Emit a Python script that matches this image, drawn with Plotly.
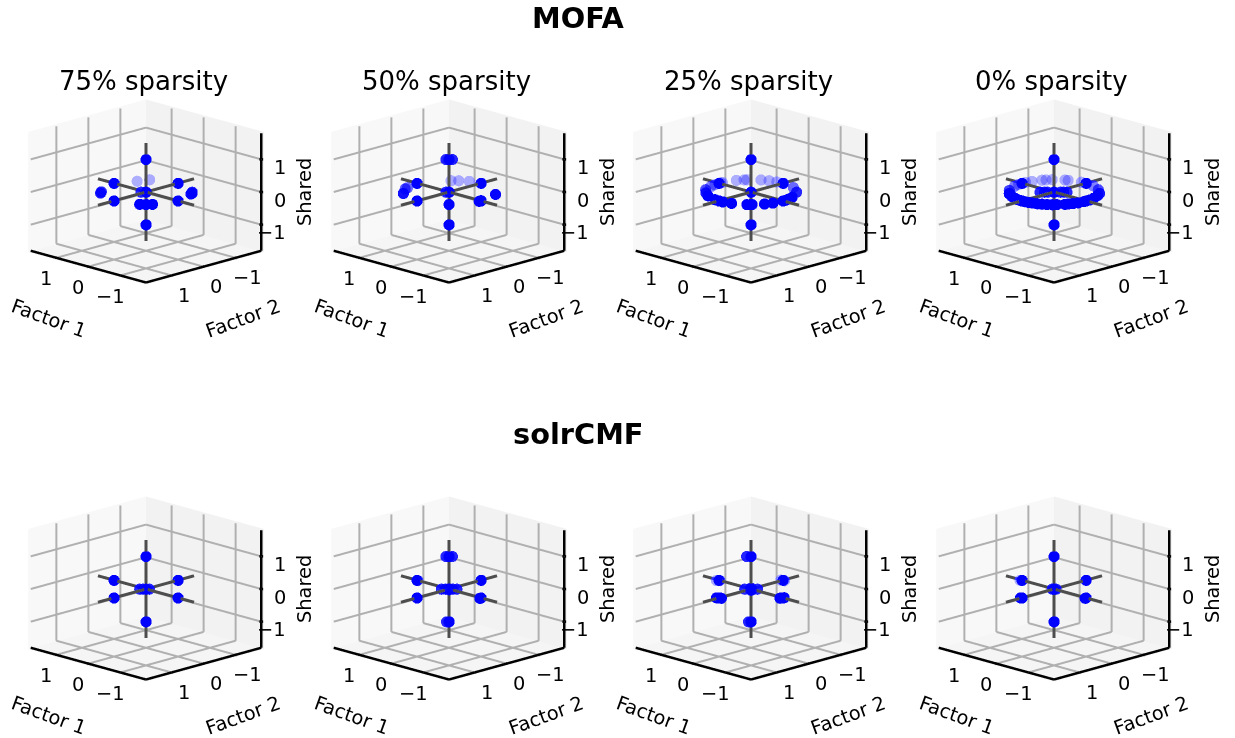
import plotly.graph_objects as go

TITLES = ["75% sparsity", "50% sparsity", "25% sparsity", "0% sparsity"]
TICKS = [-1, 0, 1]
TICKTEXT = ["\u22121", "0", "1"]
R = 1.8
BOX = 1.84

# the six unit directions and the origin, common to all panels
base_x = [1, -1, 0, 0, 0, 0, 0]
base_y = [0, 0, 1, -1, 0, 0, 0]
base_z = [0, 0, 0, 0, 1, -1, 0]

# reference axes drawn through the origin
axis_x = [[-1.5, 1.5], [0, 0], [0, 0]]
axis_y = [[0, 0], [-1.5, 1.5], [0, 0]]
axis_z = [[0, 0], [0, 0], [-1.5, 1.5]]

# extra points per panel
mofa75_x = [.66, .72, -.77, -.8, -.72, .76, .65, -.7, -.59, -.79, .08]
mofa75_y = [.76, .68, -.67, -.6, -.72, -.48, -.76, .7, .79, .59, .08]
mofa75_z = [0] * 11
mofa50_x = [.64, .87, .9, .62, .5, .3, -.85, -.7, -.99, -.98, .05, .05, -.05]
mofa50_y = [.79, .5, .4, -.68, -.8, -.93, -.6, .7, .05, -.02, .05, .05, -.05]
mofa50_z = [0] * 11 + [1, 1]
mofa25_x = [-.33, -.64, -.69, -.72, -.88, -.96, -1.0, -.98, -.93, -.71, -.4, -.11, -.01,
            .14, .47, .67, .85, .95, .99, 1.0, 1.0, .9, .81, .77, .54, .37, .18, -.01]
mofa25_y = [.94, .77, .72, .69, .46, .28, -.05, -.19, -.35, -.71, -.92, .995, 1.0,
            .99, .88, .74, .57, .31, .14, -.05, -.1, -.44, -.59, -.64, -.85, -.93, -.98, -1.0]
mofa25_z = [0] * 28
mofa0_x = [.63, .60, .42, .29, .16, .05, -.08, -.19, -.29, -.39, -.49, -.59, -.68, -.75,
           -.86, -.89, -.94, -.98, -1.0, -.997, -.96, -.87, -.78, -.55, -.25, -.01, .14,
           .45, .52, .74, .82, .87, .96, 1.0, .997, .95, .8,
           .15, -.15, .1, -.1, .22, -.2]
mofa0_y = [.77, .80, .90, .95, .99, 1.0, .997, .98, .95, .92, .87, .81, .74, .66,
           .52, .45, .35, .23, .06, -.11, -.28, -.49, -.64, -.83, -.97, -1.0, -.99,
           -.89, -.86, -.68, -.57, -.49, -.27, -.11, .11, .29, .6,
           .15, -.15, .1, -.1, .22, -.2]
mofa0_z = [0] * 43
solr75_x = [.1, -.05, .05]
solr75_y = [.1, -.05, .05]
solr75_z = [0] * 3
solr50_x = [.12, -.12, .06, -.06, .03, -.03, .97, -1.0, .05, -.05, .04]
solr50_y = [.12, -.12, .06, -.06, -.03, .03, .0, .04, .05, -.05, .04]
solr50_z = [0] * 8 + [1, 1, -1]
solr25_x = [.1, -.1, .06, -.06, .05, -.05, 1.03, .97, -1.0, -.98, -.96, -.04, .05, -.05, .05, .07, .04]
solr25_y = [.1, -.1, -.06, .06, 1.03, .98, .05, .0, -.03, .03, .06, -1.0, -.98, .03, -.03, .07, .04]
solr25_z = [0] * 15 + [1, -1]
solr0_x = [.03, -.03, .03, 1.03, -1.0, -1.0]
solr0_y = [.03, -.03, 1.02, .03, .0, .03]
solr0_z = [0] * 6

PANELS = [
    (mofa75_x, mofa75_y, mofa75_z), (mofa50_x, mofa50_y, mofa50_z),
    (mofa25_x, mofa25_y, mofa25_z), (mofa0_x, mofa0_y, mofa0_z),
    (solr75_x, solr75_y, solr75_z), (solr50_x, solr50_y, solr50_z),
    (solr25_x, solr25_y, solr25_z), (solr0_x, solr0_y, solr0_z),
]

W, H = 1235, 738
CENTERS_X = [146, 449, 751, 1054]
CENTERS_Y = [192, 589]
DOM_H = 296
DOM_W = 290
EYE = 1.14
EYE_Z = 0.405
ASPECT = 1.126
LIFT = 0.05            # moves markers along the view direction so they sit in front of the lines
FONT = "DejaVu Sans"
TICK_SIZE = 19.4


def shade(x, y):
    depth = (y - x) / 1.414
    a = max(0.3, min(1.0, 0.85 + 0.75 * depth))
    return f"rgba(0,0,255,{a:.2f})"


def polyline(segments):
    xs, ys, zs = [], [], []
    for (a, b) in segments:
        xs += [a[0], b[0], None]
        ys += [a[1], b[1], None]
        zs += [a[2], b[2], None]
    return xs, ys, zs


grid_segments = []
for t in TICKS:
    grid_segments += [
        ((t, -R, -R), (t, R, -R)), ((t, -R, -R), (t, -R, R)),      # x = t
        ((-R, t, -R), (R, t, -R)), ((R, t, -R), (R, t, R)),        # y = t
        ((R, -R, t), (R, R, t)), ((R, -R, t), (-R, -R, t)),        # z = t
    ]
edge_segments = [((-R, R, -R), (R, R, -R)), ((-R, R, -R), (-R, -R, -R)), ((-R, -R, -R), (-R, -R, R))]
tick_segments = []
for t in TICKS:
    tick_segments += [
        ((t, R - .03, -R), (t, R + .03, -R)),
        ((-R + .03, t, -R), (-R - .03, t, -R)),
        ((-R - .03, -R - .03, t), (-R + .03, -R + .03, t)),
    ]


def axis():
    return dict(range=[-BOX, BOX], autorange=False, title=dict(text=""), showgrid=False, zeroline=False,
                showline=False, ticks="", showticklabels=False, showbackground=True, showspikes=False)


def tick_annotations():
    out = []
    for t, s in zip(TICKS, TICKTEXT):
        common = dict(text=s, showarrow=False, font=dict(family=FONT, size=TICK_SIZE, color="black"))
        out.append(dict(x=t, y=R, z=-R, xanchor="center", yanchor="middle", xshift=-10, yshift=-21, **common))
        out.append(dict(x=-R, y=t, z=-R, xanchor="center", yanchor="middle", xshift=12, yshift=-20, **common))
        out.append(dict(x=-R, y=-R, z=t, xanchor="right", yanchor="middle", xshift=27, yshift=-8, **common))
    return out


fig = go.Figure()
annotations = []
layout_scenes = {}
for i, (ex, ey, ez) in enumerate(PANELS):
    col, row = i % 4, i // 4
    cx, cy = CENTERS_X[col], CENTERS_Y[row]
    name = "scene" if i == 0 else f"scene{i + 1}"
    for segs, color, width in [(grid_segments, "#b0b0b0", 4), (edge_segments, "black", 5), (tick_segments, "black", 5)]:
        gx, gy, gz = polyline(segs)
        fig.add_trace(go.Scatter3d(x=gx, y=gy, z=gz, mode="lines", scene=name, connectgaps=False,
                                   line=dict(color=color, width=width), showlegend=False, hoverinfo="skip"))
    for ax_x, ax_y, ax_z in zip(axis_x, axis_y, axis_z):
        fig.add_trace(go.Scatter3d(x=ax_x, y=ax_y, z=ax_z, mode="lines", scene=name,
                                   line=dict(color="#4d4d4d", width=6), showlegend=False,
                                   hoverinfo="skip"))
    xs = base_x + ex
    ys = base_y + ey
    zs = base_z + ez
    colors = ["rgba(0,0,255,1)"] * len(base_x) + [shade(a, b) for a, b in zip(ex, ey)]
    fig.add_trace(go.Scatter3d(x=[v - LIFT for v in xs], y=[v + LIFT for v in ys],
                               z=[v + LIFT * EYE_Z / 0.75 for v in zs],
                               mode="markers", scene=name, showlegend=False,
                               marker=dict(size=6.5, color=colors, line=dict(width=0)), hoverinfo="skip"))
    xa, ya, za = axis(), axis(), axis()
    xa["backgroundcolor"] = "#f8f8f8"
    ya["backgroundcolor"] = "#f2f2f2"
    za["backgroundcolor"] = "#f5f5f5"
    layout_scenes[name] = dict(
        domain=dict(x=[(cx - DOM_W / 2) / W, (cx + DOM_W / 2) / W],
                    y=[1 - (cy + DOM_H / 2) / H, 1 - (cy - DOM_H / 2) / H]),
        xaxis=xa, yaxis=ya, zaxis=za, annotations=tick_annotations(),
        aspectmode="manual", aspectratio=dict(x=ASPECT, y=ASPECT, z=0.75 * ASPECT),
        camera=dict(eye=dict(x=-EYE, y=EYE, z=EYE_Z * EYE), up=dict(x=0, y=0, z=1),
                    center=dict(x=0, y=0, z=0), projection=dict(type="orthographic")),
    )
    dy = cy - 192
    annotations += [
        dict(x=cx - 97, y=318 + dy, text="Factor 1", textangle=20),
        dict(x=cx + 97, y=318 + dy, text="Factor 2", textangle=-20),
        dict(x=cx + 158, y=192 + dy, text="Shared", textangle=-90),
    ]
    if row == 0:
        annotations.append(dict(x=cx - 3, y=81, text=TITLES[col], size=26))

annotations += [
    dict(x=578, y=18, text="<b>MOFA</b>", size=28.8),
    dict(x=578, y=434, text="<b>solrCMF</b>", size=28.8),
]
for a in annotations:
    size = a.pop("size", TICK_SIZE)
    a.update(x=a["x"] / W, y=1 - a["y"] / H, xref="paper", yref="paper", showarrow=False,
             xanchor="center", yanchor="middle", font=dict(family=FONT, size=size, color="black"))

fig.update_layout(width=W, height=H, margin=dict(l=0, r=0, t=0, b=0), paper_bgcolor="white",
                  annotations=annotations, showlegend=False, **layout_scenes)
fig.write_html("out.html", config=dict(displayModeBar=False),
               post_script="document.body.style.margin='0';")
